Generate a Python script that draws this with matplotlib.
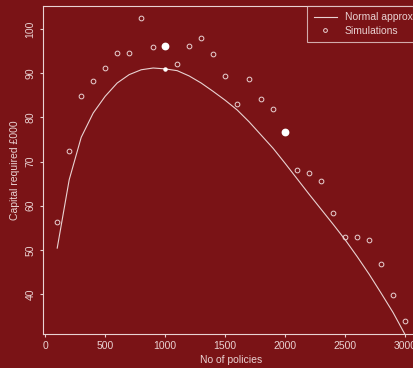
import numpy as np
import matplotlib
matplotlib.use("Agg")
import matplotlib.pyplot as plt

# number of policies
n_policies = [100, 200, 300, 400, 500, 600, 700, 800, 900, 1000,
              1100, 1200, 1300, 1400, 1500, 1600, 1700, 1800, 1900, 2000,
              2100, 2200, 2300, 2400, 2500, 2600, 2700, 2800, 2900, 3000]

# simulated capital required (GBP 000)
sims = [56.4, 72.3, 84.9, 88.3, 91.2, 94.5, 94.5, 102.5, 96.0, 96.2,
        92.2, 96.2, 98.0, 94.3, 89.4, 83.0, 88.6, 84.1, 81.9, 76.7,
        68.1, 67.5, 65.5, 58.4, 52.9, 52.9, 52.2, 46.7, 39.7, 33.8]

# normal approximation
normal = [50.4, 65.9, 75.5, 81.0, 84.8, 87.8, 89.7, 90.8, 91.2, 91.0,
          90.6, 89.4, 87.8, 85.9, 83.9, 81.7, 79.0, 76.0, 73.0, 69.6,
          66.1, 62.6, 59.2, 55.8, 52.3, 48.5, 44.5, 40.2, 35.8, 30.8]

# highlighted points
hi_x = [1000, 2000]
hi_y = [96.2, 76.7]
dot_x = [1000]
dot_y = [91.0]

bg = "#7a1316"
fg = "#e9d2d2"

plt.rcParams['font.family'] = ['Liberation Sans', 'DejaVu Sans']
plt.rcParams['font.size'] = 7.5

W, H = 413, 368
fig = plt.figure(figsize=(W / 100, H / 100), dpi=100, facecolor=bg)
left, right, top, bottom = 43.3, 419.0, 6.0, 333.5
ax = fig.add_axes([left / W, 1 - bottom / H, (right - left) / W, (bottom - top) / H])
ax.set_facecolor(bg)

ax.plot(n_policies, normal, color=fg, lw=0.8, label="Normal approx")
ax.plot(n_policies, sims, 'o', ms=3.4, mfc='none', mec=fg, mew=0.7, label="Simulations")
ax.plot(hi_x, hi_y, 'o', ms=4.6, color='white')
ax.plot(dot_x, dot_y, 'o', ms=2.2, color='white')

rng = max(sims) - min(sims)
ax.set_ylim(min(sims) - 0.04 * rng, max(sims) + 0.04 * rng)
xr = max(n_policies) - min(n_policies)
ax.set_xlim(min(n_policies) - 0.04 * xr, max(n_policies) + 0.04 * xr)

ax.set_xticks([0, 500, 1000, 1500, 2000, 2500, 3000])
ax.set_yticks([40, 50, 60, 70, 80, 90, 100])
for lab in ax.get_yticklabels():
    lab.set_rotation(90)
    lab.set_va('center')

for s in ax.spines.values():
    s.set_color(fg)
    s.set_linewidth(0.8)
ax.tick_params(colors=fg, length=2.5, width=0.8, pad=3)
ax.set_xlabel("No of policies", color=fg, labelpad=3)
ax.set_ylabel("Capital required £000", color=fg, labelpad=4)

leg = ax.legend(loc='upper right', borderaxespad=0, frameon=True, fancybox=False,
                facecolor=bg, edgecolor=fg, labelcolor=fg, handlelength=2.2,
                handletextpad=0.8, borderpad=0.6, labelspacing=0.35,
                markerscale=0.8)
leg.get_frame().set_linewidth(0.8)

fig.savefig("out.png", dpi=100, facecolor=bg)
